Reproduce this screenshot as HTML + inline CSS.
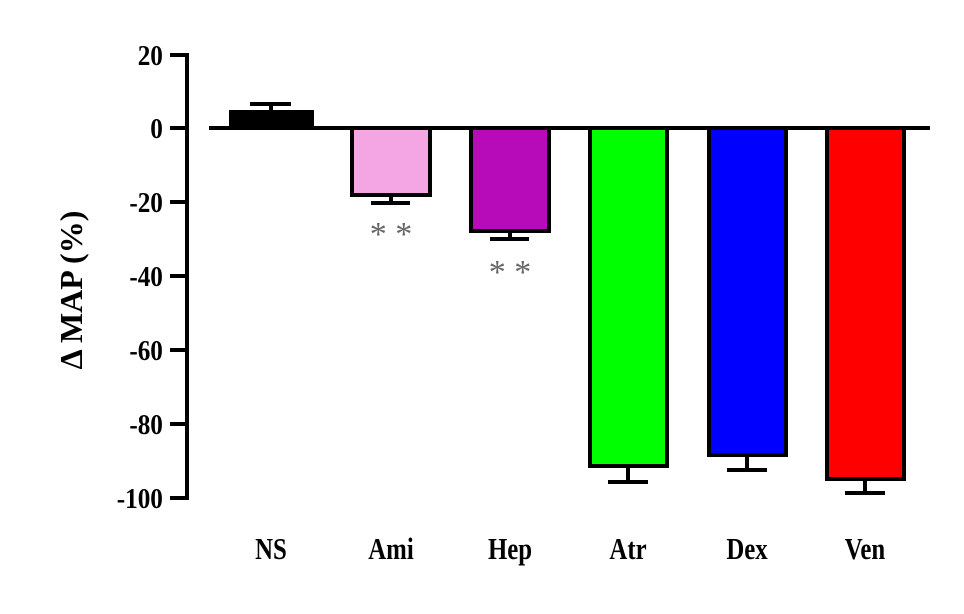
<!DOCTYPE html>
<html><head><meta charset="utf-8"><style>body{margin:0;background:#fff}</style></head><body>
<svg width="964" height="609" xmlns="http://www.w3.org/2000/svg" font-family="Liberation Serif, serif" font-weight="bold">
<g stroke="#000" stroke-width="4" fill="none">
<line x1="187" y1="53" x2="187" y2="500"/>
<line x1="170" y1="55" x2="189" y2="55"/>
<line x1="170" y1="128" x2="189" y2="128"/>
<line x1="170" y1="202" x2="189" y2="202"/>
<line x1="170" y1="276" x2="189" y2="276"/>
<line x1="170" y1="350" x2="189" y2="350"/>
<line x1="170" y1="424" x2="189" y2="424"/>
<line x1="170" y1="498" x2="189" y2="498"/>
</g>
<g font-size="28" text-anchor="end" fill="#000" transform="scale(0.9,1)">
<text x="181" y="65">20</text><text x="181" y="138">0</text><text x="181" y="212">-20</text><text x="181" y="286">-40</text><text x="181" y="360">-60</text><text x="181" y="434">-80</text><text x="181" y="508">-100</text>
</g>
<text transform="translate(82,290) rotate(-90)" font-size="32" text-anchor="middle">Δ MAP (%)</text>
<g stroke="#000" stroke-width="4">
<rect x="231" y="112" width="81" height="16" fill="#000"/>
<line x1="271" y1="112" x2="271" y2="104"/><line x1="250" y1="104" x2="291" y2="104"/>
<rect x="352" y="128" width="78" height="67" fill="#f4a6e4"/>
<line x1="391" y1="195" x2="391" y2="203"/><line x1="371" y1="203" x2="410" y2="203"/>
<rect x="471" y="128" width="78" height="103" fill="#b70ab9"/>
<line x1="510" y1="231" x2="510" y2="239"/><line x1="490" y1="239" x2="529" y2="239"/>
<rect x="590" y="128" width="77" height="338" fill="#00ff00"/>
<line x1="628" y1="466" x2="628" y2="482"/><line x1="608" y1="482" x2="648" y2="482"/>
<rect x="709" y="128" width="77" height="327" fill="#0000ff"/>
<line x1="747" y1="455" x2="747" y2="470"/><line x1="727" y1="470" x2="767" y2="470"/>
<rect x="827" y="128" width="77" height="351" fill="#ff0000"/>
<line x1="865" y1="479" x2="865" y2="493"/><line x1="845" y1="493" x2="885" y2="493"/>
<line x1="209" y1="128" x2="930" y2="128"/>
</g>
<g font-size="34" fill="#666" font-weight="normal" text-anchor="middle">
<text x="391" y="245">* *</text><text x="510" y="283">* *</text>
</g>
<g font-size="31" text-anchor="middle" fill="#000">
<text transform="translate(271,559) scale(0.8,1)">NS</text>
<text transform="translate(391,559) scale(0.8,1)">Ami</text>
<text transform="translate(510,559) scale(0.8,1)">Hep</text>
<text transform="translate(628,559) scale(0.8,1)">Atr</text>
<text transform="translate(747,559) scale(0.8,1)">Dex</text>
<text transform="translate(865,559) scale(0.8,1)">Ven</text>
</g>
</svg>
</body></html>
